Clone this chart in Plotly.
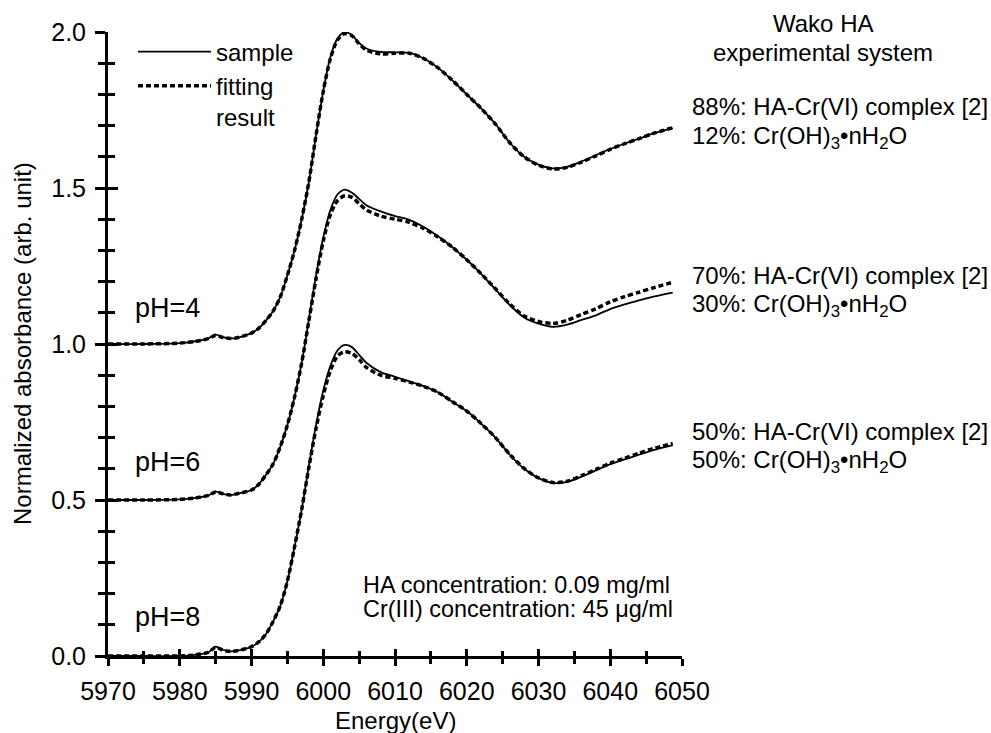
import plotly.graph_objects as go

# ---------------- data ----------------
energy = [5970, 5975, 5980, 5982, 5984, 5985, 5986, 5987, 5988, 5990, 5991, 5992,
          5993, 5994, 5995, 5996, 5997, 5998, 5999, 6000, 6001, 6002, 6003, 6004,
          6005, 6006, 6008, 6010, 6012, 6014, 6016, 6018, 6020, 6022, 6024, 6026,
          6028, 6030, 6032, 6034, 6036, 6038, 6040, 6042, 6044, 6046, 6048.7]

# normalized absorbance (without vertical offset)
ph4_sample = [0.0, 0.0, 0.003, 0.008, 0.018, 0.030, 0.022, 0.018, 0.020, 0.035, 0.050, 0.075,
              0.105, 0.150, 0.220, 0.300, 0.400, 0.520, 0.670, 0.810, 0.920, 0.980, 1.000, 0.990,
              0.965, 0.947, 0.936, 0.935, 0.933, 0.915, 0.885, 0.845, 0.800, 0.755, 0.705, 0.645,
              0.600, 0.575, 0.563, 0.568, 0.585, 0.605, 0.625, 0.642, 0.658, 0.675, 0.692]
ph4_fit = [0.0, 0.0, 0.003, 0.008, 0.017, 0.028, 0.021, 0.018, 0.020, 0.035, 0.050, 0.075,
           0.105, 0.150, 0.220, 0.300, 0.400, 0.520, 0.670, 0.810, 0.915, 0.975, 0.995, 0.988,
           0.962, 0.942, 0.930, 0.932, 0.932, 0.915, 0.885, 0.845, 0.800, 0.755, 0.705, 0.645,
           0.600, 0.573, 0.561, 0.566, 0.583, 0.603, 0.624, 0.642, 0.658, 0.675, 0.693]

ph6_sample = [0.0, 0.0, 0.002, 0.006, 0.015, 0.027, 0.020, 0.016, 0.020, 0.032, 0.050, 0.080,
              0.115, 0.170, 0.240, 0.330, 0.440, 0.580, 0.720, 0.840, 0.930, 0.980, 0.995, 0.985,
              0.965, 0.945, 0.925, 0.910, 0.898, 0.875, 0.845, 0.810, 0.770, 0.725, 0.675, 0.625,
              0.585, 0.565, 0.555, 0.562, 0.577, 0.592, 0.612, 0.627, 0.640, 0.652, 0.665]
ph6_fit = [0.0, 0.0, 0.002, 0.006, 0.015, 0.026, 0.020, 0.016, 0.020, 0.032, 0.050, 0.080,
           0.115, 0.170, 0.240, 0.330, 0.440, 0.575, 0.710, 0.830, 0.915, 0.960, 0.975, 0.970,
           0.950, 0.930, 0.910, 0.900, 0.890, 0.870, 0.843, 0.810, 0.770, 0.725, 0.677, 0.628,
           0.590, 0.572, 0.566, 0.576, 0.595, 0.613, 0.635, 0.652, 0.666, 0.680, 0.698]

ph8_sample = [0.0, 0.0, 0.0, 0.003, 0.012, 0.030, 0.020, 0.015, 0.017, 0.030, 0.045, 0.070,
              0.110, 0.160, 0.240, 0.350, 0.470, 0.610, 0.740, 0.850, 0.930, 0.980, 0.997, 0.990,
              0.965, 0.940, 0.910, 0.895, 0.880, 0.865, 0.845, 0.815, 0.785, 0.745, 0.700, 0.645,
              0.600, 0.570, 0.555, 0.558, 0.575, 0.595, 0.615, 0.630, 0.645, 0.660, 0.676]
ph8_fit = [0.0, 0.0, 0.0, 0.003, 0.012, 0.028, 0.019, 0.015, 0.017, 0.030, 0.045, 0.070,
           0.110, 0.160, 0.240, 0.350, 0.470, 0.605, 0.730, 0.835, 0.915, 0.962, 0.975, 0.970,
           0.950, 0.925, 0.900, 0.890, 0.878, 0.864, 0.845, 0.815, 0.785, 0.745, 0.700, 0.646,
           0.601, 0.571, 0.556, 0.560, 0.578, 0.598, 0.618, 0.634, 0.650, 0.665, 0.681]

offsets = {"pH=4": 1.0, "pH=6": 0.5, "pH=8": 0.0}
series = [("pH=4", ph4_sample, ph4_fit),
          ("pH=6", ph6_sample, ph6_fit),
          ("pH=8", ph8_sample, ph8_fit)]

ph_label_pos = {"pH=4": 1.115, "pH=6": 0.622, "pH=8": 0.125}

fractions = [
    ("88%: HA-Cr(VI) complex [2]", "12%: Cr(OH)<sub>3</sub>•nH<sub>2</sub>O", 1.76, 1.663),
    ("70%: HA-Cr(VI) complex [2]", "30%: Cr(OH)<sub>3</sub>•nH<sub>2</sub>O", 1.221, 1.125),
    ("50%: HA-Cr(VI) complex [2]", "50%: Cr(OH)<sub>3</sub>•nH<sub>2</sub>O", 0.721, 0.625),
]

x_ticks = [5970, 5980, 5990, 6000, 6010, 6020, 6030, 6040, 6050]
y_ticks = [0.0, 0.5, 1.0, 1.5, 2.0]

FONT = "Liberation Sans, Arial, sans-serif"
FS = 24

fig = go.Figure()

first = True
for name, samp, fit in series:
    off = offsets[name]
    fig.add_trace(go.Scatter(
        x=energy, y=[v + off for v in samp], mode="lines",
        line=dict(color="black", width=1.8, shape="spline", smoothing=0.8),
        name="sample", showlegend=first, legendrank=1, hoverinfo="skip"))
    fig.add_trace(go.Scatter(
        x=energy, y=[v + off for v in fit], mode="lines",
        line=dict(color="black", width=3.5, dash="5px,3px", shape="spline", smoothing=0.8),
        name="fitting<br>result", showlegend=first, legendrank=2, hoverinfo="skip"))
    first = False

# helper trace for the overlaid axes that draw the inner half of the crossing ticks
fig.add_trace(go.Scatter(x=[x_ticks[0]], y=[y_ticks[0]], xaxis="x2", yaxis="y2",
                         mode="markers", marker=dict(opacity=0), showlegend=False,
                         hoverinfo="skip"))

for name, _, _ in series:
    fig.add_annotation(x=5973.5, y=ph_label_pos[name], xref="x", yref="y", text=name,
                       showarrow=False, xanchor="left", yanchor="middle",
                       font=dict(family=FONT, size=27, color="black"))

fig.add_annotation(x=6005.2, y=0.226, xref="x", yref="y", text="HA concentration: 0.09 mg/ml",
                   showarrow=False, xanchor="left", yanchor="middle",
                   font=dict(family=FONT, size=23.4, color="black"))
fig.add_annotation(x=6005.2, y=0.151, xref="x", yref="y", text="Cr(III) concentration: 45 μg/ml",
                   showarrow=False, xanchor="left", yanchor="middle",
                   font=dict(family=FONT, size=23.4, color="black"))

fig.add_annotation(x=1.2456, y=1.0144, xref="paper", yref="paper", text="Wako HA",
                   showarrow=False, xanchor="center", yanchor="middle",
                   font=dict(family=FONT, size=FS, color="black"))
fig.add_annotation(x=1.2456, y=1.935, xref="paper", yref="y", text="experimental system",
                   showarrow=False, xanchor="center", yanchor="middle",
                   font=dict(family=FONT, size=FS, color="black"))

for l1, l2, y1, y2 in fractions:
    fig.add_annotation(x=1.0139, y=y1, xref="paper", yref="y", text=l1, showarrow=False,
                       xanchor="left", yanchor="middle",
                       font=dict(family=FONT, size=FS, color="black"))
    fig.add_annotation(x=1.0139, y=y2, xref="paper", yref="y", text=l2, showarrow=False,
                       xanchor="left", yanchor="middle",
                       font=dict(family=FONT, size=FS, color="black"))

# axis titles
fig.add_annotation(x=0.5, y=-0.1026, xref="paper", yref="paper", text="Energy(eV)",
                   showarrow=False, xanchor="center", yanchor="middle",
                   font=dict(family=FONT, size=FS, color="black"))
fig.add_annotation(x=-0.1498, y=0.5, xref="paper", yref="paper",
                   text="Normalized absorbance (arb. unit)", textangle=-90,
                   showarrow=False, xanchor="center", yanchor="middle",
                   font=dict(family=FONT, size=FS, color="black"))

axis_common = dict(showgrid=False, zeroline=False, tickcolor="black", tickwidth=3)

fig.update_layout(
    width=991, height=733,
    margin=dict(l=108, r=309, t=32, b=77, autoexpand=False),
    paper_bgcolor="white", plot_bgcolor="white",
    font=dict(family=FONT, size=FS, color="black"),
    showlegend=True,
    legend=dict(x=0.0436, y=1.004, xanchor="left", yanchor="top", valign="top",
                itemwidth=73,
                bgcolor="rgba(0,0,0,0)", borderwidth=0, tracegroupgap=0,
                font=dict(family=FONT, size=FS, color="black")),
    xaxis=dict(range=[5970, 6050], tickvals=x_ticks, ticktext=[str(v) for v in x_ticks],
               ticks="outside", ticklen=7, showline=True, linecolor="black", linewidth=3,
               tickfont=dict(family=FONT, size=25, color="black"),
               minor=dict(dtick=5, tick0=5970, ticks="outside", ticklen=5, tickwidth=3,
                          tickcolor="black"),
               ticklabelstandoff=4, automargin=False, **axis_common),
    yaxis=dict(range=[0, 2.0], tickvals=y_ticks, ticktext=[f"{v:.1f}" for v in y_ticks],
               ticks="outside", ticklen=10, showline=True, linecolor="black", linewidth=3,
               tickfont=dict(family=FONT, size=25, color="black"),
               minor=dict(dtick=0.1, tick0=0, ticks="outside", ticklen=7, tickwidth=3,
                          tickcolor="black"),
               ticklabelstandoff=4, automargin=False, **axis_common),
    xaxis2=dict(range=[5970, 6050], overlaying="x", anchor="y", side="bottom",
                tickvals=x_ticks, ticks="inside", ticklen=7, showticklabels=False,
                showline=False,
                minor=dict(dtick=5, tick0=5970, ticks="inside", ticklen=5, tickwidth=3,
                           tickcolor="black"),
                **axis_common),
    yaxis2=dict(range=[0, 2.0], overlaying="y", anchor="x", side="left",
                tickvals=y_ticks, ticks="inside", ticklen=10, showticklabels=False,
                showline=False,
                minor=dict(dtick=0.1, tick0=0, ticks="inside", ticklen=7, tickwidth=3,
                           tickcolor="black"),
                **axis_common),
)

fig.write_html("out.html")
